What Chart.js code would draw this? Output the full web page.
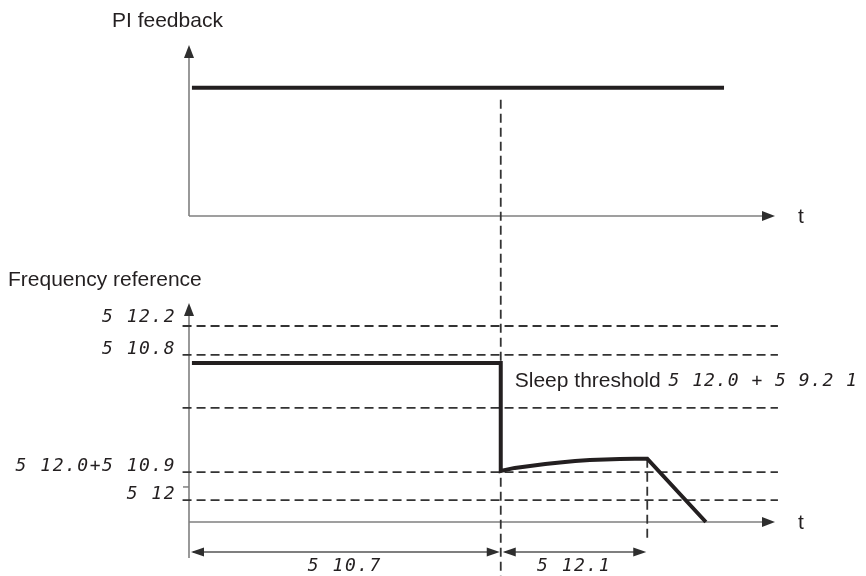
<!DOCTYPE html>
<html>
<head>
<meta charset="utf-8">
<script src="https://cdn.jsdelivr.net/npm/chart.js@4.4.0/dist/chart.umd.min.js"></script>
<style>
  html, body { margin: 0; padding: 0; background: #ffffff; }
  #wrap { position: relative; width: 866px; height: 576px; }
  canvas { display: block; }
</style>
</head>
<body>
<div id="wrap"><canvas id="c" width="866" height="576"></canvas></div>
<script>
// ---------------- data ----------------
// time axis runs 0..100 (arbitrary units) in both panels
const panelTitles = ['PI feedback', 'Frequency reference'];
const axisName = 't';

const piTime  = [0.5, 91.3];
const piLevel = [75, 75];

const freqTime  = [0.5, 53.2, 53.2, 55.6, 58.2, 60.8, 63.3, 65.9, 68.4, 71.0, 73.5, 76.1, 78.2, 88.2];
const freqValue = [72.6, 72.6, 23.3, 24.7, 25.6, 26.5, 27.2, 27.9, 28.3, 28.5, 28.8, 28.9, 28.9, 0];

const thresholdLevels = [89.5, 76.3, 52.1, 22.8, 10.0];
const thresholdLabels = ['5 12.2', '5 10.8', '', '5 12.0+5 10.9', '5 12'];
const lowSpeedTick = 16.0;           // extra tick beside the "5 12" label

const sleepTime = 53.2;              // sleep detection instant
const sleepDelayEnd = 78.2;          // end of 5 12.1 delay
const intervalLabels = ['5 10.7', '5 12.1'];
const sleepText = 'Sleep threshold';
const sleepCode = '5 12.0 + 5 9.2 1';

// ---------------- helpers ----------------
const INK = '#231f20';
const AXIS = '#7f7f7f';
const DASH = '#333333';
const SEG_FONT = '18px "DejaVu Sans Mono"';
const TXT_FONT = '21px "Liberation Sans", Arial, sans-serif';

function pts(xs, ys) { return xs.map((x, i) => ({ x: x, y: ys[i] })); }

function arrowHead(ctx, x, y, dir, len, half) {
  len = len || 13; half = half || 5;
  ctx.beginPath();
  if (dir === 'up')    { ctx.moveTo(x, y); ctx.lineTo(x - half, y + len); ctx.lineTo(x + half, y + len); }
  if (dir === 'right') { ctx.moveTo(x, y); ctx.lineTo(x - len, y - half); ctx.lineTo(x - len, y + half); }
  if (dir === 'left')  { ctx.moveTo(x, y); ctx.lineTo(x + len, y - half); ctx.lineTo(x + len, y + half); }
  ctx.closePath();
  ctx.fillStyle = '#2e2e2e';
  ctx.fill();
}

function segText(ctx, text, x, y, align, spacing) {
  ctx.save();
  ctx.font = 'italic ' + SEG_FONT;
  ctx.letterSpacing = spacing || '1.5px';
  ctx.fillStyle = INK;
  ctx.textAlign = align || 'left';
  ctx.textBaseline = 'middle';
  ctx.fillText(text, x, y);
  ctx.restore();
}

function plainText(ctx, text, x, y, align, baseline) {
  ctx.save();
  ctx.font = TXT_FONT;
  ctx.fillStyle = INK;
  ctx.textAlign = align || 'left';
  ctx.textBaseline = baseline || 'alphabetic';
  ctx.fillText(text, x, y);
  ctx.restore();
}

function line(ctx, x1, y1, x2, y2, color, width, dash) {
  ctx.save();
  ctx.strokeStyle = color;
  ctx.lineWidth = width;
  ctx.setLineDash(dash || []);
  ctx.beginPath();
  ctx.moveTo(x1, y1);
  ctx.lineTo(x2, y2);
  ctx.stroke();
  ctx.restore();
}

// ---------------- plugin: axes, arrows, texts ----------------
const diagram = {
  id: 'diagram',
  beforeDatasetsDraw(chart) {
    const ctx = chart.ctx;
    const xs = chart.scales.x, yt = chart.scales.yTop, yb = chart.scales.yBot;
    const x0 = xs.getPixelForValue(0), xEnd = xs.getPixelForValue(100);
    // top panel axes
    const t0 = yt.getPixelForValue(0), tTop = yt.getPixelForValue(100);
    line(ctx, x0, t0, x0, tTop + 10, AXIS, 1.6);
    line(ctx, x0, t0, xEnd - 10, t0, AXIS, 1.6);
    // bottom panel axes
    const b0 = yb.getPixelForValue(0), bTop = yb.getPixelForValue(100);
    line(ctx, x0, b0 + 36, x0, bTop + 10, AXIS, 1.6);
    line(ctx, x0, b0, xEnd - 10, b0, AXIS, 1.6);
    // tick beside the "5 12" label
    const yt16 = yb.getPixelForValue(lowSpeedTick);
    line(ctx, x0 - 6, yt16, x0, yt16, AXIS, 1.5);
    // vertical dashed markers
    const xs1 = xs.getPixelForValue(sleepTime);
    line(ctx, xs1, yt.getPixelForValue(piLevel[0]) + 12, xs1, 576, DASH, 1.8, [9, 5]);
    const xs2 = xs.getPixelForValue(sleepDelayEnd);
    line(ctx, xs2, yb.getPixelForValue(freqValue[12]), xs2, b0 + 20, DASH, 1.8, [9, 5]);
  },
  afterDatasetsDraw(chart) {
    const ctx = chart.ctx;
    const xs = chart.scales.x, yt = chart.scales.yTop, yb = chart.scales.yBot;
    const x0 = xs.getPixelForValue(0), xEnd = xs.getPixelForValue(100);
    const t0 = yt.getPixelForValue(0), tTop = yt.getPixelForValue(100);
    const b0 = yb.getPixelForValue(0), bTop = yb.getPixelForValue(100);
    arrowHead(ctx, x0, tTop, 'up');
    arrowHead(ctx, xEnd, t0, 'right');
    arrowHead(ctx, x0, bTop, 'up');
    arrowHead(ctx, xEnd, b0, 'right');

    // titles and axis names
    plainText(ctx, panelTitles[0], x0 - 77, 27);
    plainText(ctx, panelTitles[1], 8, 286);
    plainText(ctx, axisName, xEnd + 23, t0 + 1, 'left', 'middle');
    plainText(ctx, axisName, xEnd + 23, b0 + 1, 'left', 'middle');

    // threshold labels
    thresholdLabels.forEach((lab, i) => {
      if (!lab) return;
      const yy = yb.getPixelForValue(thresholdLevels[i]);
      const off = i === 0 ? -9 : -6;
      segText(ctx, lab, x0 - 13, yy + off, 'right');
    });

    // sleep threshold annotation
    const xs1 = xs.getPixelForValue(sleepTime);
    const ySleep = (yb.getPixelForValue(thresholdLevels[1]) + yb.getPixelForValue(thresholdLevels[2])) / 2;
    plainText(ctx, sleepText, xs1 + 14, ySleep, 'left', 'middle');
    ctx.save(); ctx.font = TXT_FONT; const w = ctx.measureText(sleepText + ' ').width; ctx.restore();
    segText(ctx, sleepCode, xs1 + 14 + w + 2, ySleep, 'left', '1px');

    // interval dimension arrows
    const xs2 = xs.getPixelForValue(sleepDelayEnd);
    const yDim = b0 + 30;
    line(ctx, x0 + 4, yDim, xs1 - 4, yDim, '#555', 1.3);
    arrowHead(ctx, x0 + 2, yDim, 'left', 13, 4.5);
    arrowHead(ctx, xs1 - 1, yDim, 'right', 13, 4.5);
    line(ctx, xs1 + 4, yDim, xs2 - 4, yDim, '#555', 1.3);
    arrowHead(ctx, xs1 + 2, yDim, 'left', 13, 4.5);
    arrowHead(ctx, xs2 - 1, yDim, 'right', 13, 4.5);
    segText(ctx, intervalLabels[0], (x0 + xs1) / 2, yDim + 14, 'center');
    segText(ctx, intervalLabels[1], (xs1 + xs2) / 2, yDim + 14, 'center');
  }
};

// ---------------- datasets ----------------
const datasets = [
  {
    label: panelTitles[0], data: pts(piTime, piLevel), yAxisID: 'yTop',
    borderColor: INK, borderWidth: 4, order: 0
  },
  {
    label: panelTitles[1], data: pts(freqTime, freqValue), yAxisID: 'yBot',
    borderColor: INK, borderWidth: 4, order: 0, borderJoinStyle: 'miter'
  }
];
thresholdLevels.forEach((lv, i) => {
  datasets.push({
    label: thresholdLabels[i] || 'level', data: [{ x: -1.1, y: lv }, { x: 100.5, y: lv }], yAxisID: 'yBot',
    borderColor: DASH, borderWidth: 1.8, borderDash: [9, 5], order: 5
  });
});
datasets.forEach(d => { d.showLine = true; d.pointRadius = 0; d.tension = 0; d.clip = false; d.fill = false; });

// panel geometry (fractions of the plot area)
const TOP_FRAC = 171 / 477;   // top panel height share
const BOT_FRAC = 219 / 477;   // bottom panel height share

new Chart(document.getElementById('c'), {
  type: 'scatter',
  data: { datasets: datasets },
  options: {
    responsive: false,
    animation: false,
    layout: { padding: { left: 189, right: 91, top: 45, bottom: 54 } },
    plugins: { legend: { display: false }, tooltip: { enabled: false } },
    scales: {
      x:    { type: 'linear', min: 0, max: 100, display: false },
      yTop: { type: 'linear', min: 100 - 100 / TOP_FRAC, max: 100, display: false },
      yBot: { type: 'linear', min: 0, max: 100 / BOT_FRAC, display: false }
    }
  },
  plugins: [diagram]
});
</script>
</body>
</html>
